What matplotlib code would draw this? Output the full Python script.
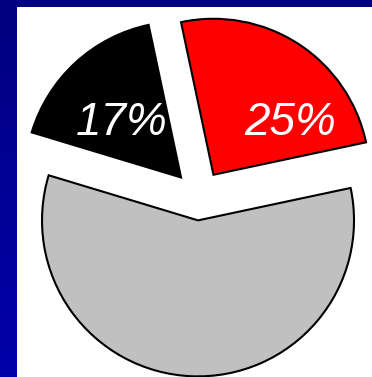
import numpy as np
import matplotlib.pyplot as plt
from matplotlib.colors import LinearSegmentedColormap
from matplotlib.patches import Rectangle

# slice data, in drawing order (clockwise from the top)
labels = ['Red', 'Gray', 'Black']
values = [25, 58, 17]
colors = ['#ff0000', '#c0c0c0', '#000000']
shown = [True, False, True]

W, H = 372, 377
R = 156
# pie() takes the explode offset in data units, here pixels
explode = [0.17 * R, 0.15 * R, 0.17 * R]

fig = plt.figure(figsize=(W / 100, H / 100), dpi=100)

# blue slide background with a vertical gradient
bg = fig.add_axes([0, 0, 1, 1])
grad = np.linspace(0, 1, 256).reshape(-1, 1)
cmap = LinearSegmentedColormap.from_list('slide', ['#000080', '#0000aa'])
bg.imshow(grad, aspect='auto', cmap=cmap, extent=[0, W, 0, H], origin='upper')
bg.set_xlim(0, W)
bg.set_ylim(0, H)
bg.axis('off')

ax = fig.add_axes([0, 0, 1, 1])
ax.add_patch(Rectangle((17, 0), W - 17, H - 7, facecolor='white', edgecolor='none'))

wedges, texts, autotexts = ax.pie(
    values, colors=colors, explode=explode, startangle=102, counterclock=False,
    center=(199, 180), radius=R, frame=True,
    autopct=lambda p: f'{p:.0f}%', pctdistance=0.6,
    wedgeprops=dict(edgecolor='black', linewidth=1.5),
    textprops=dict(color='white', fontsize=33, fontstyle='italic',
                   family=['Liberation Sans', 'DejaVu Sans']))

label_pos = {'Red': (290, 254), 'Black': (122, 254)}
for name, t, vis in zip(labels, autotexts, shown):
    t.set_visible(vis)
    if vis:
        t.set_position(label_pos[name])
        t.set_ha('center')
        t.set_va('center')

ax.set_xlim(0, W)
ax.set_ylim(0, H)
ax.axis('off')

fig.savefig('out.png', dpi=100)
